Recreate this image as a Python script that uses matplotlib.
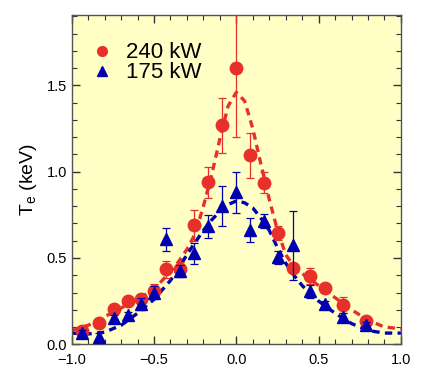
import numpy as np
import matplotlib
matplotlib.use('Agg')
import matplotlib.pyplot as plt
from matplotlib.ticker import MultipleLocator

plt.rcParams['font.family'] = ['Liberation Sans', 'DejaVu Sans']

# measured profiles
r_pts = [-0.94, -0.835, -0.745, -0.66, -0.58, -0.50, -0.425, -0.34, -0.255, -0.175,
         -0.09, 0.0, 0.085, 0.17, 0.255, 0.345, 0.445, 0.54, 0.645, 0.79]
te_240 = [0.077, 0.126, 0.205, 0.248, 0.263, 0.309, 0.435, 0.439, 0.689, 0.94,
          1.269, 1.598, 1.095, 0.936, 0.646, 0.443, 0.395, 0.329, 0.228, 0.137]
err_240 = [0.02, 0.02, 0.02, 0.02, 0.03, 0.04, 0.05, 0.04, 0.09, 0.09,
           0.16, 0.40, 0.13, 0.06, 0.04, 0.02, 0.045, 0.02, 0.045, 0.02]
te_175 = [0.064, 0.044, 0.15, 0.17, 0.232, 0.30, 0.609, 0.426, 0.528, 0.683,
          0.80, 0.88, 0.66, 0.712, 0.503, 0.573, 0.306, 0.232, 0.16, 0.112]
err_175 = [0.02, 0.02, 0.02, 0.02, 0.035, 0.035, 0.066, 0.035, 0.06, 0.068,
           0.115, 0.12, 0.07, 0.04, 0.04, 0.20, 0.035, 0.02, 0.02, 0.02]

# fitted profiles
r_fit = [-1.0, -0.9, -0.8, -0.7, -0.6, -0.5, -0.4, -0.35, -0.3, -0.25, -0.2, -0.15,
         -0.1, -0.05, 0.0, 0.05, 0.1, 0.15, 0.2, 0.25, 0.3, 0.35, 0.4, 0.5, 0.6,
         0.7, 0.8, 0.9, 1.0]
fit_240 = [0.08, 0.11, 0.16, 0.21, 0.26, 0.32, 0.42, 0.48, 0.55, 0.64, 0.80, 0.98,
           1.19, 1.38, 1.46, 1.41, 1.25, 1.04, 0.84, 0.66, 0.52, 0.45, 0.41, 0.34,
           0.27, 0.20, 0.14, 0.10, 0.09]
fit_175 = [0.065, 0.06, 0.07, 0.11, 0.18, 0.26, 0.37, 0.44, 0.52, 0.59, 0.66, 0.72,
           0.77, 0.81, 0.83, 0.82, 0.79, 0.73, 0.66, 0.56, 0.47, 0.40, 0.34, 0.25,
           0.18, 0.12, 0.08, 0.065, 0.065]

red = '#e8302a'
blue = '#0000b0'

fig = plt.figure(figsize=(4.47, 3.68), dpi=100)
ax = fig.add_axes([0.1604, 0.0644, 0.7366, 0.8936])
ax.set_facecolor('#ffffc6')

ax.plot(r_fit, fit_240, color=red, lw=2.4, dashes=(2.2, 1.6), zorder=2)
ax.plot(r_fit, fit_175, color=blue, lw=2.4, dashes=(2.2, 1.6), zorder=2)

ax.errorbar(r_pts, te_240, yerr=err_240, fmt='o', color=red, ms=9,
            elinewidth=0.9, capsize=3.2, capthick=0.9, zorder=3)
ax.errorbar(r_pts, te_175, yerr=err_175, fmt='^', color=blue, ms=9,
            elinewidth=0.9, capsize=3.2, capthick=0.9, zorder=4)

# legend
ax.plot([], [], 'o', color=red, ms=7, label='240 kW')
ax.plot([], [], '^', color=blue, ms=7, label='175 kW')
h, l = ax.get_legend_handles_labels()
ax.legend(h[-2:], l[-2:], loc='upper left', frameon=False, fontsize=16,
          handlelength=1.0, handletextpad=0.6, labelspacing=-0.05,
          bbox_to_anchor=(0.03, 0.945), borderaxespad=0)

ax.set_xlim(-1.0, 1.0)
ax.set_ylim(0.0, 1.905)
ax.xaxis.set_major_locator(MultipleLocator(0.5))
ax.xaxis.set_minor_locator(MultipleLocator(0.1))
ax.yaxis.set_major_locator(MultipleLocator(0.5))
ax.yaxis.set_minor_locator(MultipleLocator(0.1))
ax.tick_params(which='both', direction='in', top=True, right=True,
               labelsize=10.5, colors='#333333', labelcolor='black')
ax.tick_params(which='major', length=6, width=1)
ax.tick_params(which='minor', length=3.5, width=0.8)
ax.tick_params(axis='x', which='major', pad=6)
for s in ax.spines.values():
    s.set_color('#555555')
    s.set_linewidth(1.0)

ax.set_ylabel(r'T$_\mathregular{e}$ (keV)', fontsize=14, labelpad=5)

fig.savefig('out.png', dpi=100)
